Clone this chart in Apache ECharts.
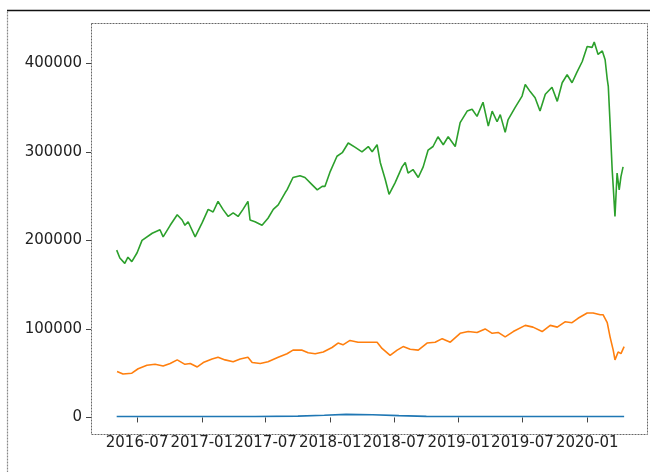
<!DOCTYPE html>
<html>
<head>
<meta charset="utf-8">
<script src="https://cdn.jsdelivr.net/npm/echarts@6.0.0/dist/echarts.min.js"></script>
<style>
  html, body { margin: 0; padding: 0; background: #fff; }
  #chart { width: 650px; height: 472px; }
</style>
</head>
<body>
<div id="chart"></div>
<script>
// tick labels
const xTickLabels = ["2016-07", "2017-01", "2017-07", "2018-01", "2018-07", "2019-01", "2019-07", "2020-01"];
const yTickValues = [0, 100000, 200000, 300000, 400000];

// series
const blueSeries = [
  ["2016-05-04", 1000], ["2017-06-01", 1000], ["2017-10-01", 1500], ["2017-12-15", 2500],
  ["2018-02-15", 3500], ["2018-05-01", 3000], ["2018-07-15", 2000], ["2018-10-01", 1200],
  ["2019-06-01", 1000], ["2020-04-15", 1000]
];

const orangeSeries = [
  ["2016-05-05", 52000], ["2016-05-22", 49000], ["2016-06-16", 50000], ["2016-07-04", 55000],
  ["2016-07-29", 59000], ["2016-08-21", 60000], ["2016-09-13", 58000], ["2016-10-03", 61000],
  ["2016-10-23", 65000], ["2016-11-14", 60000], ["2016-11-29", 61000], ["2016-12-19", 57000],
  ["2017-01-05", 62000], ["2017-01-30", 66000], ["2017-02-16", 68000], ["2017-03-08", 65000],
  ["2017-03-31", 63000], ["2017-04-20", 66000], ["2017-05-12", 68000], ["2017-05-24", 62000],
  ["2017-06-16", 61000], ["2017-07-08", 63000], ["2017-08-06", 68000], ["2017-08-31", 72000],
  ["2017-09-17", 76000], ["2017-10-13", 76000], ["2017-10-30", 73000], ["2017-11-19", 72000],
  ["2017-12-12", 74000], ["2018-01-06", 79000], ["2018-01-23", 84000], ["2018-02-06", 82000],
  ["2018-02-26", 87000], ["2018-03-21", 85000], ["2018-04-19", 85000], ["2018-05-14", 85000],
  ["2018-05-28", 78000], ["2018-06-20", 70000], ["2018-07-10", 76000], ["2018-07-27", 80000],
  ["2018-08-16", 77000], ["2018-09-08", 76000], ["2018-10-03", 84000], ["2018-10-26", 85000],
  ["2018-11-15", 89000], ["2018-12-08", 85000], ["2019-01-05", 95000], ["2019-01-28", 97000],
  ["2019-02-22", 96000], ["2019-03-17", 100000], ["2019-04-06", 95000], ["2019-04-23", 96000],
  ["2019-05-13", 91000], ["2019-06-05", 97000], ["2019-07-09", 104000], ["2019-07-31", 102000],
  ["2019-08-26", 97000], ["2019-09-18", 104000], ["2019-10-08", 102000], ["2019-10-30", 108000],
  ["2019-11-19", 107000], ["2019-12-06", 112000], ["2020-01-01", 118000], ["2020-01-18", 118000],
  ["2020-02-07", 116000], ["2020-02-15", 116000], ["2020-02-27", 107000], ["2020-03-06", 91000],
  ["2020-03-15", 76000], ["2020-03-20", 65000], ["2020-03-29", 74000], ["2020-04-06", 72000],
  ["2020-04-15", 80000]
];

const greenSeries = [
  ["2016-05-04", 189000], ["2016-05-13", 180000], ["2016-05-27", 174000], ["2016-06-05", 181000],
  ["2016-06-16", 176000], ["2016-07-01", 186000], ["2016-07-15", 200000], ["2016-08-13", 208000],
  ["2016-09-04", 212000], ["2016-09-13", 204000], ["2016-10-03", 217000], ["2016-10-23", 229000],
  ["2016-11-06", 223000], ["2016-11-14", 217000], ["2016-11-23", 221000], ["2016-12-13", 204000],
  ["2017-01-02", 220000], ["2017-01-19", 235000], ["2017-02-02", 232000], ["2017-02-16", 244000],
  ["2017-03-02", 235000], ["2017-03-17", 227000], ["2017-03-31", 231000], ["2017-04-14", 227000],
  ["2017-04-28", 235000], ["2017-05-12", 244000], ["2017-05-18", 223000], ["2017-06-01", 221000],
  ["2017-06-21", 217000], ["2017-07-08", 225000], ["2017-07-23", 235000], ["2017-08-06", 240000],
  ["2017-08-26", 254000], ["2017-08-31", 257000], ["2017-09-17", 271000], ["2017-10-07", 273000],
  ["2017-10-21", 271000], ["2017-11-10", 263000], ["2017-11-25", 257000], ["2017-12-09", 261000],
  ["2017-12-17", 261000], ["2018-01-01", 278000], ["2018-01-20", 295000], ["2018-02-04", 299000],
  ["2018-02-21", 310000], ["2018-03-13", 305000], ["2018-04-01", 300000], ["2018-04-19", 306000],
  ["2018-04-30", 300000], ["2018-05-14", 308000], ["2018-05-23", 288000], ["2018-06-06", 269000],
  ["2018-06-17", 252000], ["2018-07-04", 265000], ["2018-07-24", 283000], ["2018-08-02", 288000],
  ["2018-08-10", 276000], ["2018-08-24", 280000], ["2018-09-08", 271000], ["2018-09-22", 283000],
  ["2018-10-06", 302000], ["2018-10-20", 306000], ["2018-11-03", 317000], ["2018-11-18", 308000],
  ["2018-12-02", 317000], ["2018-12-22", 306000], ["2019-01-05", 333000], ["2019-01-25", 346000],
  ["2019-02-08", 348000], ["2019-02-22", 340000], ["2019-03-11", 356000], ["2019-03-26", 329000],
  ["2019-04-06", 346000], ["2019-04-20", 334000], ["2019-04-29", 342000], ["2019-05-13", 322000],
  ["2019-05-21", 336000], ["2019-06-10", 350000], ["2019-06-30", 363000], ["2019-07-09", 376000],
  ["2019-07-23", 368000], ["2019-08-06", 361000], ["2019-08-20", 346000], ["2019-09-04", 365000],
  ["2019-09-23", 373000], ["2019-10-08", 357000], ["2019-10-22", 378000], ["2019-11-05", 387000],
  ["2019-11-19", 378000], ["2019-12-03", 390000], ["2019-12-18", 402000], ["2020-01-01", 419000],
  ["2020-01-15", 418000], ["2020-01-21", 424000], ["2020-02-01", 410000], ["2020-02-13", 414000],
  ["2020-02-21", 404000], ["2020-02-27", 382000], ["2020-03-01", 374000], ["2020-03-06", 333000],
  ["2020-03-12", 280000], ["2020-03-15", 261000], ["2020-03-20", 227000], ["2020-03-26", 276000],
  ["2020-04-01", 257000], ["2020-04-06", 272000], ["2020-04-12", 283000]
];

const plot = { left: 91, top: 23, width: 556, height: 411 };
const font = "DejaVu Sans";
const ts = d => +new Date(d + "T00:00:00");
const xTicks = xTickLabels.map(s => ts(s + "-01"));
const toPoints = rows => rows.map(([d, v]) => [ts(d), v]);

const chart = echarts.init(document.getElementById("chart"));
chart.setOption({
  animation: false,
  grid: { left: plot.left, top: plot.top, width: plot.width, height: plot.height },
  xAxis: {
    type: "value",
    min: ts("2016-02-21"),
    max: ts("2020-06-19"),
    axisLine: { show: false },
    axisTick: { show: true, customValues: xTicks, length: 5, lineStyle: { color: "#444" } },
    axisLabel: {
      customValues: xTicks,
      hideOverlap: false,
      formatter: v => xTickLabels[xTicks.indexOf(v)] || "",
      fontFamily: font, fontSize: 15, color: "#222", margin: 2
    },
    splitLine: { show: false }
  },
  yAxis: {
    type: "value",
    min: -18700,
    max: 445500,
    axisLine: { show: false },
    axisTick: { show: true, customValues: yTickValues, length: 5, lineStyle: { color: "#444" } },
    axisLabel: {
      customValues: yTickValues,
      formatter: v => String(v),
      fontFamily: font, fontSize: 15, color: "#222", margin: 9
    },
    splitLine: { show: false }
  },
  graphic: [
    {
      type: "rect", z: 100, silent: true,
      shape: { x: 7.5, y: 10.5, width: 660, height: 480 },
      style: { fill: null, stroke: "#888", lineWidth: 1.2, lineDash: [2, 1] }
    },
    {
      type: "line", z: 101, silent: true,
      shape: { x1: 7, y1: 10.5, x2: 650, y2: 10.5 },
      style: { stroke: "#111", lineWidth: 1.5 }
    },
    {
      type: "rect", z: 100, silent: true,
      shape: { x: plot.left + 0.5, y: plot.top + 0.5, width: plot.width, height: plot.height },
      style: { fill: null, stroke: "#666", lineWidth: 1, lineDash: [2, 1] }
    }
  ],
  series: [
    { type: "line", data: toPoints(blueSeries), showSymbol: false, lineStyle: { width: 1.6, color: "#1f77b4" } },
    { type: "line", data: toPoints(orangeSeries), showSymbol: false, lineStyle: { width: 1.6, color: "#ff7f0e" } },
    { type: "line", data: toPoints(greenSeries), showSymbol: false, lineStyle: { width: 1.6, color: "#2ca02c" } }
  ]
});
</script>
</body>
</html>
